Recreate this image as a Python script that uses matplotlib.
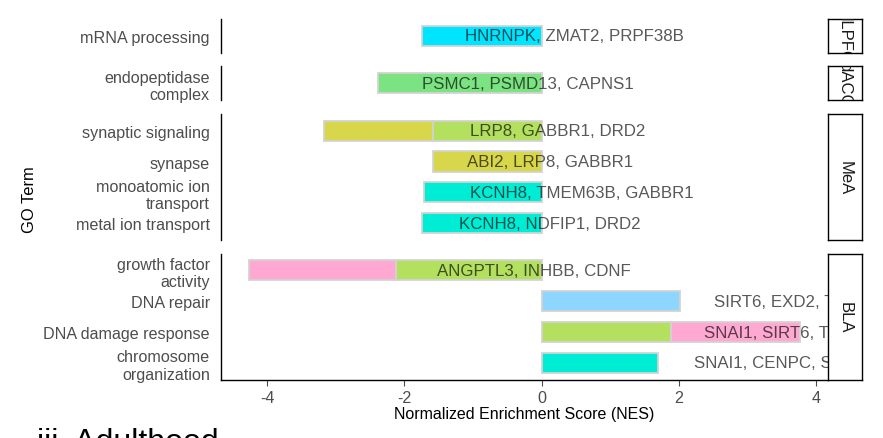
import matplotlib.pyplot as plt

plt.rcParams['font.family'] = ['Liberation Sans', 'DejaVu Sans']

# GO terms, top to bottom
terms = ["mRNA processing", "endopeptidase\ncomplex", "synaptic signaling", "synapse",
         "monoatomic ion\ntransport", "metal ion transport", "growth factor\nactivity",
         "DNA repair", "DNA damage response", "chromosome\norganization"]
region = ["dLPFC", "dACC", "MeA", "MeA", "MeA", "MeA", "BLA", "BLA", "BLA", "BLA"]
panels = ["dLPFC", "dACC", "MeA", "BLA"]

# stacked NES segments (first from 0, second continues)
nes1 = [-1.75, -2.39, -1.58, -1.59, -1.72, -1.75, -2.12, 2.01, 1.88, 1.69]
nes2 = [0, 0, -1.59, 0, 0, 0, -2.15, 0, 1.89, 0]
col1 = ["#00E5FF", "#7BE382", "#B3E05E", "#D8D74B", "#00EDD5", "#00EDD5",
        "#B3E05E", "#8CD6FF", "#B3E05E", "#00EDD5"]
col2 = [None, None, "#D8D74B", None, None, None, "#FFA8D2", None, "#FFA8D2", None]

genes = ["HNRNPK, ZMAT2, PRPF38B", "PSMC1, PSMD13, CAPNS1", "LRP8, GABBR1, DRD2",
         "ABI2, LRP8, GABBR1", "KCNH8, TMEM63B, GABBR1", "KCNH8, NDFIP1, DRD2",
         "ANGPTL3, INHBB, CDNF", "SIRT6, EXD2, TP53", "SNAI1, SIRT6, TP53",
         "SNAI1, CENPC, SMC3"]
label_x = [-1.11, -1.75, -1.05, -1.09, -1.05, -1.21, -1.53, 2.51, 2.36, 2.22]

W, H = 883, 439
fig = plt.figure(figsize=(W / 100, H / 100), dpi=100)


def fx(px):
    return px / W


def fy(py):
    return 1 - py / H


ends = [0] + nes1 + [a + b for a, b in zip(nes1, nes2)]
lo, hi = min(ends), max(ends)
span = hi - lo
xlim = (lo - 0.05 * span, hi + 0.05 * span)

unit = 30.8  # pixels per row
gap = 13.5
top = 20
left_px, right_px = 221, 828
axis_grey = "#4D4D4D"

for p, reg in enumerate(panels):
    idx = [j for j, r in enumerate(region) if r == reg]
    n = len(idx)
    h = (n + 0.1) * unit
    ax = fig.add_axes([fx(left_px), fy(top + h), fx(right_px) - fx(left_px), h / H])
    for k, j in enumerate(idx):
        ax.barh(k, nes1[j], height=0.65, color=col1[j], edgecolor="#D3D3D3", linewidth=1.3)
        if nes2[j] != 0:
            ax.barh(k, nes2[j], left=nes1[j], height=0.65, color=col2[j],
                    edgecolor="#D3D3D3", linewidth=1.3)
        ax.text(label_x[j], k, genes[j], ha="left", va="center", fontsize=12.2,
                color="black", alpha=0.65, clip_on=True, zorder=5)
    ax.set_xlim(*xlim)
    ax.set_ylim(n - 1 + 0.55, -0.55)
    ax.set_yticks(range(n))
    ax.set_yticklabels([terms[j] for j in idx], fontsize=11.6, color=axis_grey)
    for lbl in ax.get_yticklabels():
        lbl.set_multialignment("right")
    ax.tick_params(axis="y", length=0, pad=8)
    ax.spines["top"].set_visible(False)
    ax.spines["right"].set_visible(False)
    ax.spines["left"].set_linewidth(1.0)
    if p == len(panels) - 1:
        ax.spines["bottom"].set_linewidth(1.0)
        ax.set_xticks([-4, -2, 0, 2, 4])
        ax.set_xticklabels(["-4", "-2", "0", "2", "4"], fontsize=11.6, color=axis_grey)
        ax.tick_params(axis="x", length=4, width=0.8, color=axis_grey, pad=3)
    else:
        ax.spines["bottom"].set_visible(False)
        ax.set_xticks([])

    # strip on the right
    sax = fig.add_axes([fx(828), fy(top + h), fx(862) - fx(828), h / H])
    sax.set_xticks([])
    sax.set_yticks([])
    for s in sax.spines.values():
        s.set_linewidth(1.0)
        s.set_color("black")
    sax.text(0.5, 0.5, reg, rotation=-90, ha="center", va="center", fontsize=12,
             color="#1A1A1A", transform=sax.transAxes, clip_on=True)

    top += h + gap

# axis titles centred on the panel area
fig.text(fx((left_px + right_px) / 2), fy(415), "Normalized Enrichment Score (NES)",
         ha="center", va="center", fontsize=11.5)
fig.text(fx(30), fy(200), "GO Term", rotation=90, ha="center", va="center", fontsize=11.9)
fig.text(fx(37), fy(451), "iii. Adulthood", ha="left", va="baseline", fontsize=23)

fig.savefig("out.png", dpi=100)
